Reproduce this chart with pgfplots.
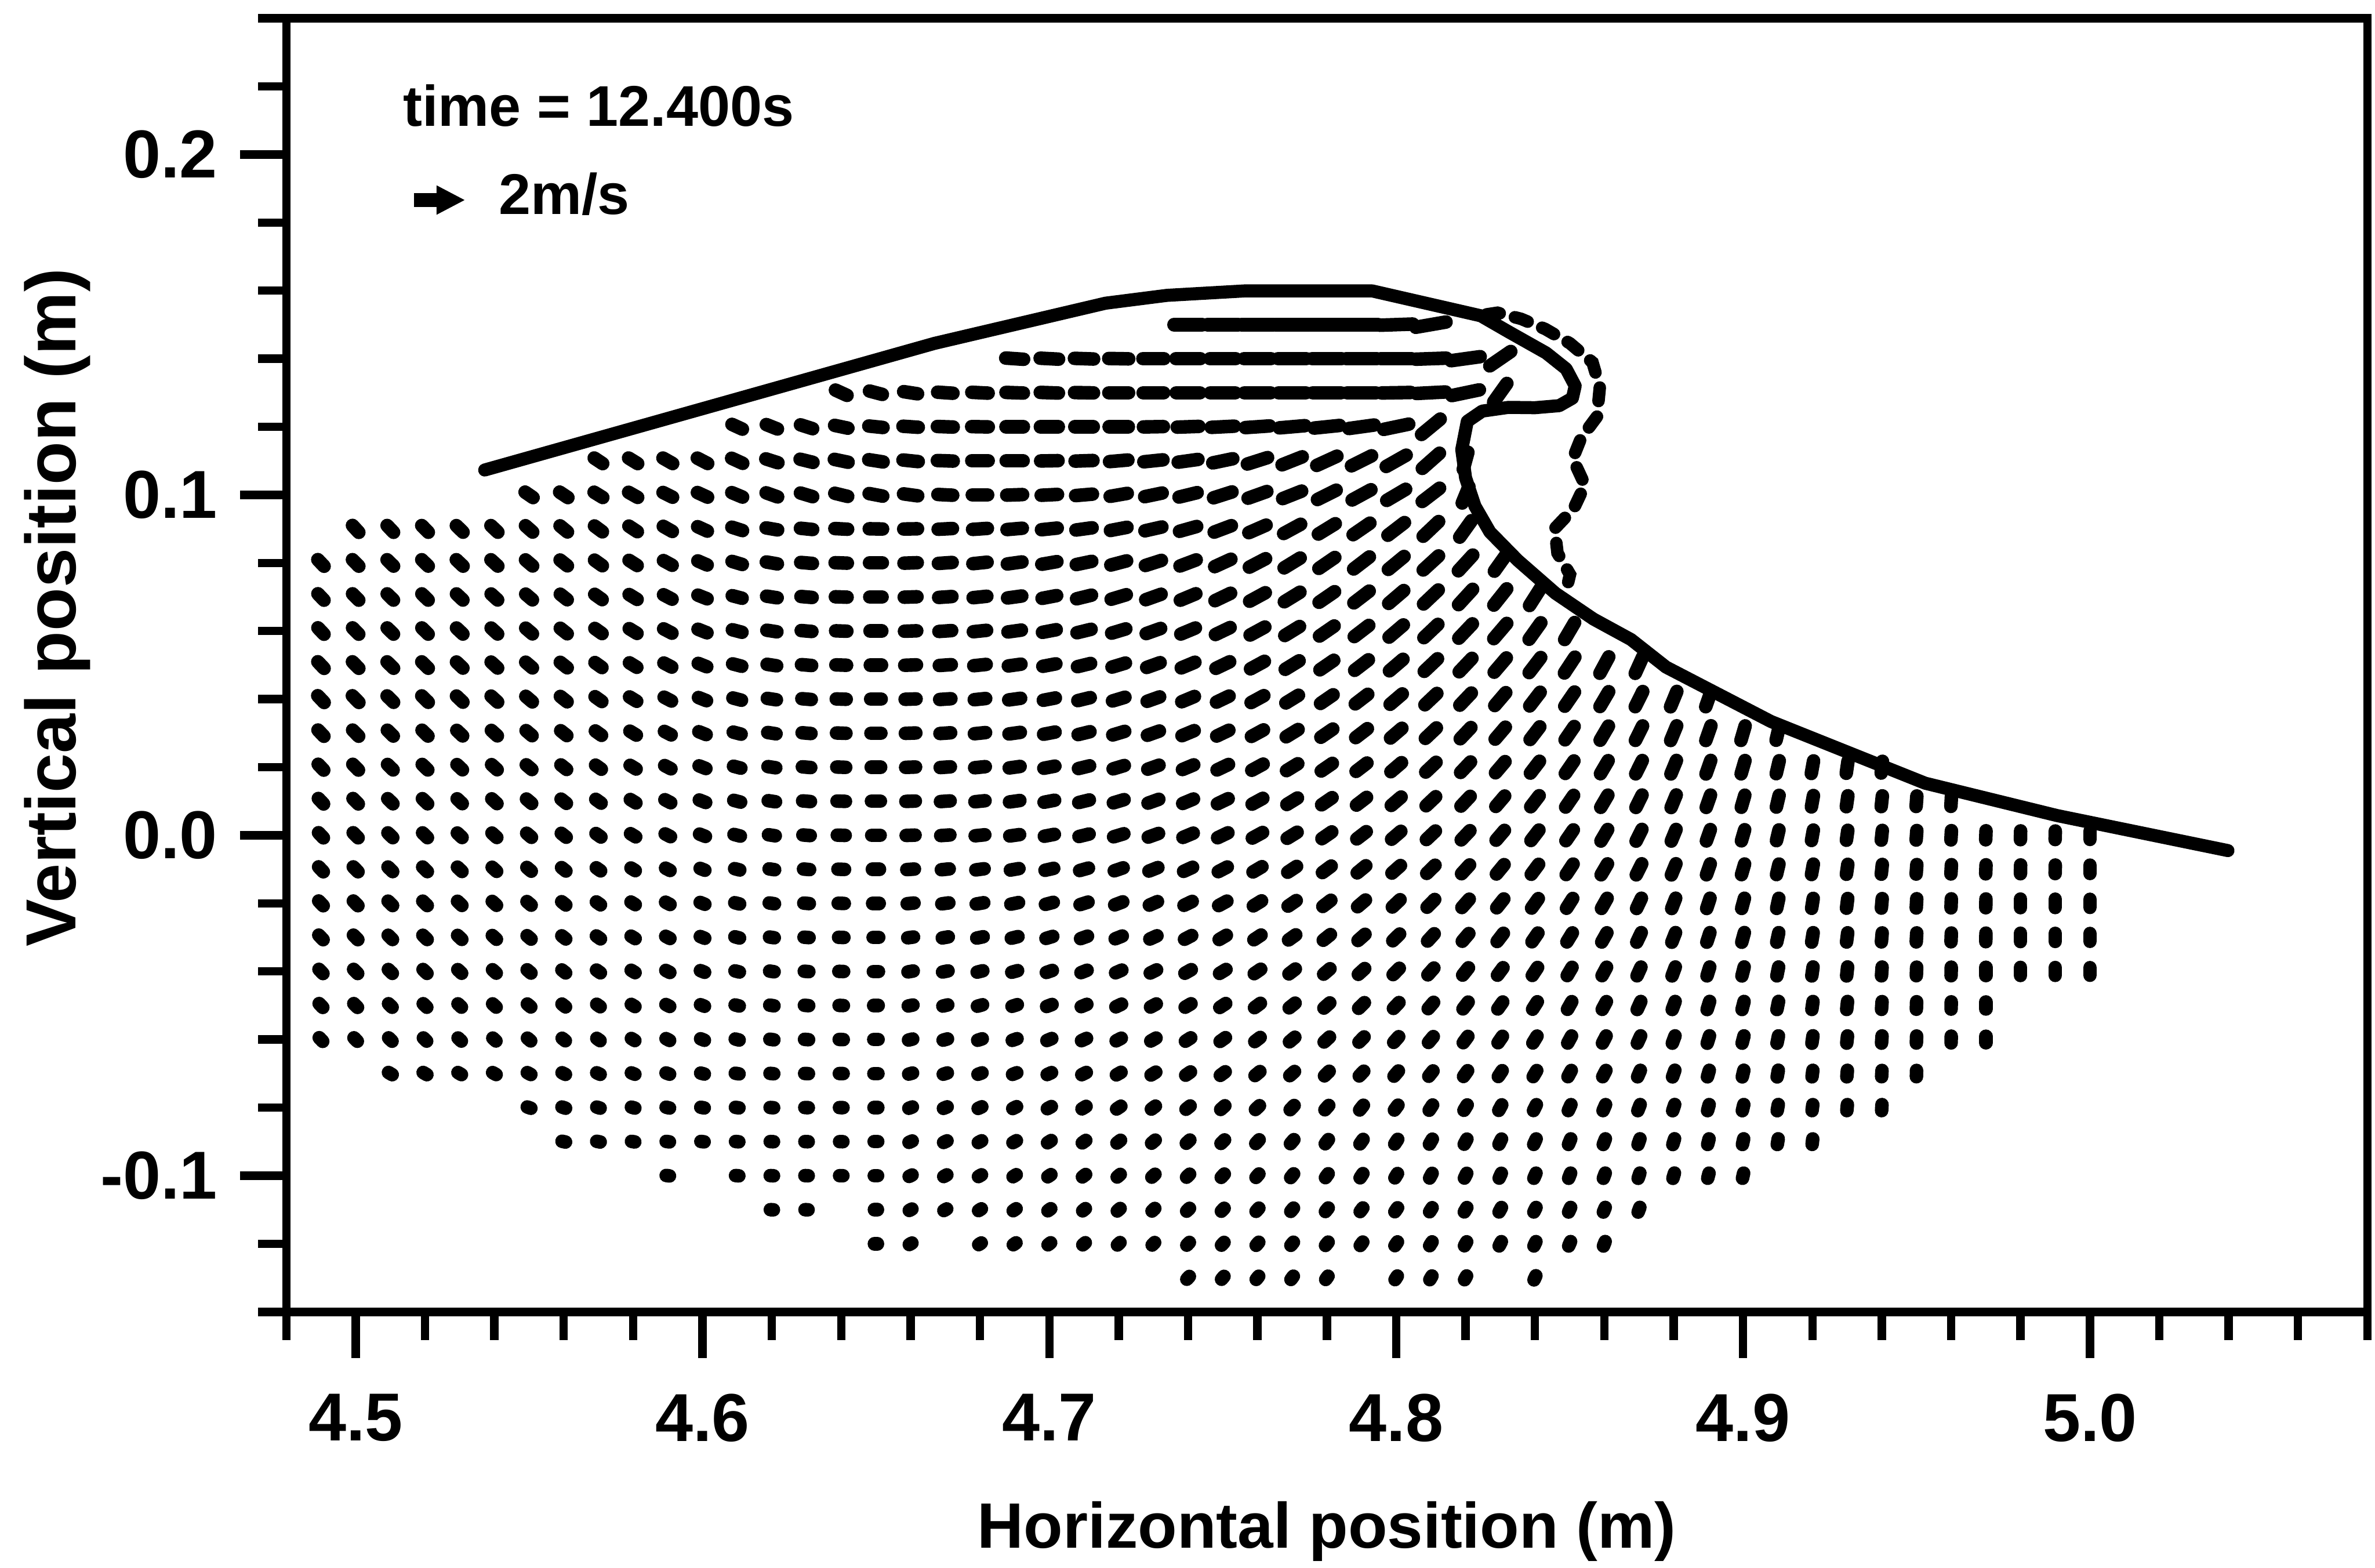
\documentclass[border=0pt]{standalone}
\usepackage{fontspec}
\setmainfont{Liberation Sans}
\usepackage{pgfplots}
\usepackage{pgfplotstable}
\pgfplotsset{compat=1.18}
\usetikzlibrary{arrows.meta}

% velocity field: grid point (x,y) in m, direction a in degrees, speed s in m/s
\pgfplotstableread{
x y a s
4.74 0.15 0 1.10
4.75 0.15 0 1.20
4.76 0.15 0 1.25
4.77 0.15 0 1.30
4.78 0.15 0 1.30
4.79 0.15 0 1.30
4.80 0.15 2 1.30
4.81 0.15 10 1.20
4.69 0.14 -4 0.70
4.70 0.14 -3 0.72
4.71 0.14 -2 0.75
4.72 0.14 -1 0.78
4.73 0.14 0 0.82
4.74 0.14 0 0.95
4.75 0.14 0 1.00
4.76 0.14 0 1.05
4.77 0.14 0 1.10
4.78 0.14 0 1.15
4.79 0.14 0 1.20
4.80 0.14 0 1.20
4.81 0.14 2 1.20
4.82 0.14 8 1.15
4.83 0.14 35 1.00
4.64 0.13 -25 0.50
4.65 0.13 -15 0.52
4.66 0.13 -9 0.55
4.67 0.13 -4 0.60
4.68 0.13 -3 0.64
4.69 0.13 -2 0.68
4.70 0.13 -2 0.71
4.71 0.13 -1 0.74
4.72 0.13 0 0.77
4.73 0.13 0 0.80
4.74 0.13 0 0.92
4.75 0.13 0 0.97
4.76 0.13 0 1.02
4.77 0.13 0 1.06
4.78 0.13 0 1.10
4.79 0.13 0 1.12
4.80 0.13 1 1.14
4.81 0.13 3 1.14
4.82 0.13 12 1.10
4.83 0.13 55 0.90
4.61 0.12 -25 0.45
4.62 0.12 -22 0.47
4.63 0.12 -18 0.50
4.64 0.12 -12 0.53
4.65 0.12 -6 0.56
4.66 0.12 -4 0.60
4.67 0.12 -2 0.62
4.68 0.12 -1 0.65
4.69 0.12 0 0.68
4.70 0.12 0 0.70
4.71 0.12 0 0.72
4.72 0.12 0 0.75
4.73 0.12 1 0.78
4.74 0.12 2 0.85
4.75 0.12 3 0.90
4.76 0.12 4 0.95
4.77 0.12 5 1.00
4.78 0.12 6 1.00
4.79 0.12 8 1.00
4.80 0.12 12 1.00
4.81 0.12 40 0.95
4.57 0.11 -34 0.40
4.58 0.11 -32 0.42
4.59 0.11 -30 0.44
4.60 0.11 -28 0.46
4.61 0.11 -25 0.48
4.62 0.11 -18 0.50
4.63 0.11 -14 0.52
4.64 0.11 -12 0.55
4.65 0.11 -9 0.57
4.66 0.11 -6 0.60
4.67 0.11 -2 0.62
4.68 0.11 0 0.64
4.69 0.11 0 0.66
4.70 0.11 1 0.68
4.71 0.11 2 0.70
4.72 0.11 5 0.72
4.73 0.11 6 0.75
4.74 0.11 8 0.78
4.75 0.11 12 0.80
4.76 0.11 18 0.83
4.77 0.11 22 0.85
4.78 0.11 25 0.87
4.79 0.11 27 0.88
4.80 0.11 30 0.90
4.81 0.11 42 0.90
4.82 0.11 75 0.70
4.55 0.10 -35 0.38
4.56 0.10 -34 0.39
4.57 0.10 -32 0.40
4.58 0.10 -30 0.41
4.59 0.10 -27 0.42
4.60 0.10 -25 0.44
4.61 0.10 -23 0.46
4.62 0.10 -20 0.48
4.63 0.10 -17 0.50
4.64 0.10 -14 0.52
4.65 0.10 -11 0.54
4.66 0.10 -8 0.56
4.67 0.10 -3 0.58
4.68 0.10 0 0.60
4.69 0.10 2 0.62
4.70 0.10 3 0.64
4.71 0.10 5 0.66
4.72 0.10 10 0.68
4.73 0.10 12 0.70
4.74 0.10 14 0.73
4.75 0.10 18 0.76
4.76 0.10 20 0.78
4.77 0.10 22 0.80
4.78 0.10 27 0.82
4.79 0.10 29 0.84
4.80 0.10 31 0.86
4.81 0.10 38 0.86
4.82 0.10 68 0.70
4.50 0.09 -48 0.37
4.51 0.09 -47 0.37
4.52 0.09 -46 0.37
4.53 0.09 -45 0.37
4.54 0.09 -44 0.38
4.55 0.09 -42 0.38
4.56 0.09 -40 0.38
4.57 0.09 -37 0.39
4.58 0.09 -34 0.40
4.59 0.09 -30 0.41
4.60 0.09 -25 0.42
4.61 0.09 -18 0.44
4.62 0.09 -10 0.46
4.63 0.09 -6 0.48
4.64 0.09 -3 0.50
4.65 0.09 -1 0.52
4.66 0.09 1 0.54
4.67 0.09 3 0.56
4.68 0.09 4 0.58
4.69 0.09 5 0.60
4.70 0.09 6 0.62
4.71 0.09 8 0.64
4.72 0.09 11 0.66
4.73 0.09 13 0.68
4.74 0.09 16 0.70
4.75 0.09 21 0.72
4.76 0.09 24 0.74
4.77 0.09 29 0.76
4.78 0.09 32 0.78
4.79 0.09 35 0.80
4.80 0.09 38 0.82
4.81 0.09 44 0.84
4.82 0.09 55 0.80
4.49 0.08 -47 0.36
4.50 0.08 -46 0.36
4.51 0.08 -45 0.36
4.52 0.08 -45 0.36
4.53 0.08 -44 0.37
4.54 0.08 -43 0.37
4.55 0.08 -41 0.37
4.56 0.08 -39 0.37
4.57 0.08 -36 0.38
4.58 0.08 -33 0.38
4.59 0.08 -29 0.39
4.60 0.08 -24 0.40
4.61 0.08 -17 0.42
4.62 0.08 -10 0.44
4.63 0.08 -5 0.46
4.64 0.08 -2 0.48
4.65 0.08 0 0.50
4.66 0.08 2 0.52
4.67 0.08 4 0.54
4.68 0.08 6 0.56
4.69 0.08 8 0.58
4.70 0.08 10 0.60
4.71 0.08 12 0.62
4.72 0.08 15 0.64
4.73 0.08 18 0.66
4.74 0.08 21 0.68
4.75 0.08 25 0.70
4.76 0.08 28 0.72
4.77 0.08 32 0.74
4.78 0.08 35 0.76
4.79 0.08 38 0.78
4.80 0.08 40 0.80
4.81 0.08 43 0.82
4.82 0.08 48 0.84
4.83 0.08 55 0.80
4.49 0.07 -47 0.35
4.50 0.07 -46 0.35
4.51 0.07 -45 0.35
4.52 0.07 -45 0.35
4.53 0.07 -44 0.35
4.54 0.07 -43 0.35
4.55 0.07 -41 0.35
4.56 0.07 -39 0.35
4.57 0.07 -36 0.36
4.58 0.07 -32 0.37
4.59 0.07 -28 0.38
4.60 0.07 -22 0.39
4.61 0.07 -15 0.40
4.62 0.07 -9 0.42
4.63 0.07 -5 0.44
4.64 0.07 -2 0.46
4.65 0.07 0 0.48
4.66 0.07 2 0.50
4.67 0.07 4 0.52
4.68 0.07 6 0.54
4.69 0.07 8 0.56
4.70 0.07 11 0.58
4.71 0.07 14 0.60
4.72 0.07 17 0.62
4.73 0.07 20 0.64
4.74 0.07 23 0.66
4.75 0.07 26 0.68
4.76 0.07 29 0.70
4.77 0.07 32 0.72
4.78 0.07 35 0.74
4.79 0.07 38 0.76
4.80 0.07 41 0.78
4.81 0.07 44 0.80
4.82 0.07 48 0.82
4.83 0.07 52 0.82
4.84 0.07 58 0.80
4.49 0.06 -47 0.35
4.50 0.06 -46 0.35
4.51 0.06 -45 0.35
4.52 0.06 -45 0.35
4.53 0.06 -44 0.35
4.54 0.06 -43 0.35
4.55 0.06 -41 0.35
4.56 0.06 -39 0.35
4.57 0.06 -36 0.35
4.58 0.06 -32 0.36
4.59 0.06 -28 0.37
4.60 0.06 -22 0.38
4.61 0.06 -15 0.39
4.62 0.06 -9 0.40
4.63 0.06 -5 0.42
4.64 0.06 -2 0.44
4.65 0.06 0 0.46
4.66 0.06 2 0.48
4.67 0.06 4 0.50
4.68 0.06 6 0.52
4.69 0.06 8 0.53
4.70 0.06 11 0.55
4.71 0.06 14 0.57
4.72 0.06 17 0.58
4.73 0.06 20 0.60
4.74 0.06 23 0.62
4.75 0.06 26 0.64
4.76 0.06 29 0.66
4.77 0.06 32 0.68
4.78 0.06 35 0.70
4.79 0.06 38 0.72
4.80 0.06 41 0.74
4.81 0.06 44 0.76
4.82 0.06 47 0.78
4.83 0.06 50 0.79
4.84 0.06 55 0.80
4.85 0.06 60 0.78
4.49 0.05 -47 0.36
4.50 0.05 -46 0.36
4.51 0.05 -45 0.36
4.52 0.05 -45 0.36
4.53 0.05 -44 0.35
4.54 0.05 -43 0.35
4.55 0.05 -41 0.35
4.56 0.05 -39 0.35
4.57 0.05 -36 0.34
4.58 0.05 -32 0.34
4.59 0.05 -28 0.35
4.60 0.05 -22 0.36
4.61 0.05 -15 0.37
4.62 0.05 -9 0.38
4.63 0.05 -5 0.40
4.64 0.05 -2 0.42
4.65 0.05 0 0.44
4.66 0.05 2 0.46
4.67 0.05 4 0.47
4.68 0.05 6 0.49
4.69 0.05 8 0.50
4.70 0.05 11 0.52
4.71 0.05 14 0.53
4.72 0.05 17 0.55
4.73 0.05 20 0.56
4.74 0.05 23 0.58
4.75 0.05 26 0.60
4.76 0.05 29 0.62
4.77 0.05 32 0.64
4.78 0.05 35 0.66
4.79 0.05 38 0.68
4.80 0.05 41 0.70
4.81 0.05 44 0.72
4.82 0.05 47 0.73
4.83 0.05 50 0.74
4.84 0.05 53 0.75
4.85 0.05 57 0.75
4.86 0.05 62 0.74
4.87 0.05 66 0.72
4.49 0.04 -47 0.37
4.50 0.04 -46 0.37
4.51 0.04 -45 0.36
4.52 0.04 -45 0.36
4.53 0.04 -44 0.35
4.54 0.04 -43 0.35
4.55 0.04 -41 0.34
4.56 0.04 -39 0.34
4.57 0.04 -36 0.33
4.58 0.04 -32 0.33
4.59 0.04 -28 0.33
4.60 0.04 -22 0.34
4.61 0.04 -15 0.35
4.62 0.04 -9 0.36
4.63 0.04 -5 0.37
4.64 0.04 -2 0.39
4.65 0.04 0 0.41
4.66 0.04 2 0.43
4.67 0.04 4 0.44
4.68 0.04 6 0.45
4.69 0.04 8 0.47
4.70 0.04 11 0.48
4.71 0.04 14 0.50
4.72 0.04 17 0.51
4.73 0.04 20 0.52
4.74 0.04 23 0.54
4.75 0.04 26 0.55
4.76 0.04 29 0.57
4.77 0.04 32 0.58
4.78 0.04 35 0.60
4.79 0.04 38 0.62
4.80 0.04 41 0.63
4.81 0.04 44 0.65
4.82 0.04 47 0.66
4.83 0.04 50 0.67
4.84 0.04 53 0.68
4.85 0.04 56 0.68
4.86 0.04 60 0.68
4.87 0.04 64 0.67
4.88 0.04 68 0.66
4.89 0.04 71 0.64
4.49 0.03 -47 0.34
4.50 0.03 -46 0.34
4.51 0.03 -45 0.33
4.52 0.03 -45 0.33
4.53 0.03 -44 0.32
4.54 0.03 -43 0.32
4.55 0.03 -41 0.31
4.56 0.03 -39 0.31
4.57 0.03 -36 0.30
4.58 0.03 -32 0.30
4.59 0.03 -28 0.30
4.60 0.03 -22 0.31
4.61 0.03 -15 0.32
4.62 0.03 -9 0.33
4.63 0.03 -5 0.35
4.64 0.03 -2 0.37
4.65 0.03 0 0.39
4.66 0.03 2 0.41
4.67 0.03 4 0.42
4.68 0.03 6 0.44
4.69 0.03 8 0.45
4.70 0.03 11 0.46
4.71 0.03 14 0.48
4.72 0.03 17 0.49
4.73 0.03 20 0.50
4.74 0.03 23 0.52
4.75 0.03 26 0.53
4.76 0.03 29 0.54
4.77 0.03 32 0.55
4.78 0.03 35 0.57
4.79 0.03 38 0.58
4.80 0.03 41 0.59
4.81 0.03 44 0.60
4.82 0.03 47 0.61
4.83 0.03 50 0.62
4.84 0.03 53 0.63
4.85 0.03 56 0.64
4.86 0.03 60 0.65
4.87 0.03 64 0.64
4.88 0.03 68 0.63
4.89 0.03 71 0.62
4.90 0.03 74 0.60
4.91 0.03 77 0.58
4.49 0.02 -47 0.32
4.50 0.02 -46 0.32
4.51 0.02 -45 0.31
4.52 0.02 -45 0.31
4.53 0.02 -44 0.30
4.54 0.02 -43 0.30
4.55 0.02 -41 0.29
4.56 0.02 -39 0.29
4.57 0.02 -36 0.28
4.58 0.02 -32 0.28
4.59 0.02 -28 0.28
4.60 0.02 -22 0.29
4.61 0.02 -15 0.30
4.62 0.02 -9 0.31
4.63 0.02 -5 0.33
4.64 0.02 -2 0.35
4.65 0.02 0 0.37
4.66 0.02 2 0.39
4.67 0.02 4 0.40
4.68 0.02 6 0.42
4.69 0.02 8 0.43
4.70 0.02 11 0.44
4.71 0.02 14 0.45
4.72 0.02 17 0.46
4.73 0.02 20 0.47
4.74 0.02 23 0.48
4.75 0.02 26 0.50
4.76 0.02 29 0.51
4.77 0.02 32 0.52
4.78 0.02 35 0.53
4.79 0.02 38 0.54
4.80 0.02 41 0.55
4.81 0.02 44 0.56
4.82 0.02 47 0.57
4.83 0.02 50 0.58
4.84 0.02 53 0.59
4.85 0.02 56 0.60
4.86 0.02 60 0.60
4.87 0.02 64 0.59
4.88 0.02 68 0.58
4.89 0.02 71 0.57
4.90 0.02 74 0.55
4.91 0.02 77 0.53
4.92 0.02 80 0.51
4.93 0.02 82 0.49
4.94 0.02 84 0.47
4.49 0.01 -47 0.30
4.50 0.01 -46 0.30
4.51 0.01 -45 0.29
4.52 0.01 -45 0.29
4.53 0.01 -44 0.28
4.54 0.01 -43 0.28
4.55 0.01 -41 0.27
4.56 0.01 -39 0.27
4.57 0.01 -36 0.26
4.58 0.01 -32 0.26
4.59 0.01 -28 0.26
4.60 0.01 -22 0.27
4.61 0.01 -15 0.28
4.62 0.01 -9 0.29
4.63 0.01 -5 0.31
4.64 0.01 -2 0.33
4.65 0.01 0 0.35
4.66 0.01 2 0.37
4.67 0.01 4 0.38
4.68 0.01 6 0.40
4.69 0.01 8 0.41
4.70 0.01 11 0.42
4.71 0.01 14 0.43
4.72 0.01 17 0.44
4.73 0.01 20 0.45
4.74 0.01 23 0.46
4.75 0.01 26 0.47
4.76 0.01 29 0.48
4.77 0.01 32 0.49
4.78 0.01 35 0.50
4.79 0.01 38 0.50
4.80 0.01 41 0.51
4.81 0.01 44 0.52
4.82 0.01 47 0.53
4.83 0.01 50 0.54
4.84 0.01 53 0.55
4.85 0.01 56 0.56
4.86 0.01 60 0.56
4.87 0.01 64 0.55
4.88 0.01 68 0.54
4.89 0.01 71 0.52
4.90 0.01 74 0.50
4.91 0.01 77 0.48
4.92 0.01 80 0.46
4.93 0.01 82 0.44
4.94 0.01 84 0.43
4.95 0.01 86 0.42
4.96 0.01 87 0.41
4.49 0.00 -47 0.28
4.50 0.00 -46 0.28
4.51 0.00 -45 0.27
4.52 0.00 -45 0.27
4.53 0.00 -44 0.26
4.54 0.00 -43 0.26
4.55 0.00 -41 0.25
4.56 0.00 -39 0.25
4.57 0.00 -36 0.24
4.58 0.00 -32 0.24
4.59 0.00 -28 0.24
4.60 0.00 -22 0.25
4.61 0.00 -15 0.26
4.62 0.00 -9 0.27
4.63 0.00 -5 0.29
4.64 0.00 -2 0.31
4.65 0.00 0 0.33
4.66 0.00 2 0.35
4.67 0.00 4 0.36
4.68 0.00 6 0.38
4.69 0.00 8 0.39
4.70 0.00 11 0.40
4.71 0.00 14 0.41
4.72 0.00 17 0.42
4.73 0.00 20 0.43
4.74 0.00 23 0.44
4.75 0.00 26 0.45
4.76 0.00 29 0.46
4.77 0.00 32 0.46
4.78 0.00 35 0.47
4.79 0.00 38 0.47
4.80 0.00 41 0.48
4.81 0.00 44 0.49
4.82 0.00 47 0.50
4.83 0.00 50 0.51
4.84 0.00 53 0.52
4.85 0.00 56 0.52
4.86 0.00 60 0.53
4.87 0.00 64 0.52
4.88 0.00 68 0.50
4.89 0.00 71 0.48
4.90 0.00 74 0.46
4.91 0.00 77 0.44
4.92 0.00 80 0.42
4.93 0.00 82 0.40
4.94 0.00 84 0.39
4.95 0.00 86 0.38
4.96 0.00 87 0.37
4.97 0.00 88 0.36
4.98 0.00 89 0.35
4.99 0.00 89 0.34
5.00 0.00 90 0.33
4.49 -0.01 -47 0.27
4.50 -0.01 -46 0.27
4.51 -0.01 -45 0.26
4.52 -0.01 -45 0.26
4.53 -0.01 -44 0.25
4.54 -0.01 -43 0.24
4.55 -0.01 -41 0.23
4.56 -0.01 -39 0.22
4.57 -0.01 -36 0.21
4.58 -0.01 -32 0.20
4.59 -0.01 -28 0.20
4.60 -0.01 -22 0.20
4.61 -0.01 -15 0.21
4.62 -0.01 -9 0.22
4.63 -0.01 -5 0.24
4.64 -0.01 -2 0.26
4.65 -0.01 0 0.28
4.66 -0.01 4 0.30
4.67 -0.01 6 0.31
4.68 -0.01 8 0.33
4.69 -0.01 10 0.34
4.70 -0.01 13 0.35
4.71 -0.01 16 0.36
4.72 -0.01 19 0.37
4.73 -0.01 22 0.38
4.74 -0.01 25 0.39
4.75 -0.01 28 0.40
4.76 -0.01 31 0.41
4.77 -0.01 34 0.42
4.78 -0.01 37 0.43
4.79 -0.01 40 0.44
4.80 -0.01 42 0.45
4.81 -0.01 45 0.46
4.82 -0.01 48 0.47
4.83 -0.01 51 0.48
4.84 -0.01 54 0.49
4.85 -0.01 57 0.50
4.86 -0.01 60 0.50
4.87 -0.01 64 0.49
4.88 -0.01 68 0.48
4.89 -0.01 71 0.46
4.90 -0.01 74 0.44
4.91 -0.01 77 0.43
4.92 -0.01 80 0.42
4.93 -0.01 82 0.40
4.94 -0.01 84 0.39
4.95 -0.01 86 0.38
4.96 -0.01 87 0.37
4.97 -0.01 88 0.36
4.98 -0.01 89 0.35
4.99 -0.01 89 0.34
5.00 -0.01 90 0.33
4.49 -0.02 -47 0.26
4.50 -0.02 -46 0.26
4.51 -0.02 -45 0.25
4.52 -0.02 -45 0.25
4.53 -0.02 -44 0.24
4.54 -0.02 -43 0.23
4.55 -0.02 -41 0.22
4.56 -0.02 -39 0.21
4.57 -0.02 -36 0.20
4.58 -0.02 -32 0.20
4.59 -0.02 -28 0.20
4.60 -0.02 -22 0.20
4.61 -0.02 -15 0.20
4.62 -0.02 -9 0.21
4.63 -0.02 -5 0.22
4.64 -0.02 -2 0.24
4.65 -0.02 0 0.26
4.66 -0.02 6 0.27
4.67 -0.02 8 0.28
4.68 -0.02 10 0.30
4.69 -0.02 12 0.31
4.70 -0.02 15 0.32
4.71 -0.02 18 0.33
4.72 -0.02 21 0.34
4.73 -0.02 24 0.35
4.74 -0.02 26 0.36
4.75 -0.02 29 0.37
4.76 -0.02 32 0.38
4.77 -0.02 35 0.39
4.78 -0.02 38 0.40
4.79 -0.02 41 0.41
4.80 -0.02 44 0.42
4.81 -0.02 46 0.43
4.82 -0.02 49 0.44
4.83 -0.02 52 0.45
4.84 -0.02 55 0.46
4.85 -0.02 58 0.46
4.86 -0.02 61 0.46
4.87 -0.02 65 0.45
4.88 -0.02 69 0.44
4.89 -0.02 72 0.43
4.90 -0.02 75 0.42
4.91 -0.02 78 0.41
4.92 -0.02 81 0.40
4.93 -0.02 83 0.39
4.94 -0.02 85 0.38
4.95 -0.02 87 0.37
4.96 -0.02 88 0.36
4.97 -0.02 89 0.35
4.98 -0.02 90 0.34
4.99 -0.02 90 0.33
5.00 -0.02 90 0.32
4.49 -0.03 -47 0.25
4.50 -0.03 -46 0.25
4.51 -0.03 -45 0.24
4.52 -0.03 -45 0.24
4.53 -0.03 -44 0.23
4.54 -0.03 -43 0.22
4.55 -0.03 -41 0.21
4.56 -0.03 -39 0.20
4.57 -0.03 -36 0.20
4.58 -0.03 -32 0.19
4.59 -0.03 -28 0.19
4.60 -0.03 -22 0.19
4.61 -0.03 -15 0.19
4.62 -0.03 -9 0.19
4.63 -0.03 -5 0.20
4.64 -0.03 -2 0.21
4.65 -0.03 0 0.22
4.66 -0.03 8 0.23
4.67 -0.03 10 0.24
4.68 -0.03 12 0.26
4.69 -0.03 14 0.27
4.70 -0.03 17 0.28
4.71 -0.03 20 0.29
4.72 -0.03 22 0.30
4.73 -0.03 25 0.31
4.74 -0.03 28 0.32
4.75 -0.03 31 0.33
4.76 -0.03 34 0.34
4.77 -0.03 36 0.35
4.78 -0.03 39 0.36
4.79 -0.03 42 0.37
4.80 -0.03 45 0.38
4.81 -0.03 48 0.39
4.82 -0.03 50 0.40
4.83 -0.03 53 0.41
4.84 -0.03 56 0.42
4.85 -0.03 59 0.42
4.86 -0.03 61 0.42
4.87 -0.03 65 0.42
4.88 -0.03 69 0.41
4.89 -0.03 72 0.40
4.90 -0.03 75 0.40
4.91 -0.03 78 0.39
4.92 -0.03 81 0.38
4.93 -0.03 83 0.37
4.94 -0.03 85 0.36
4.95 -0.03 87 0.36
4.96 -0.03 88 0.35
4.97 -0.03 89 0.34
4.98 -0.03 90 0.33
4.99 -0.03 90 0.32
5.00 -0.03 90 0.31
4.49 -0.04 -47 0.23
4.50 -0.04 -46 0.23
4.51 -0.04 -45 0.22
4.52 -0.04 -45 0.22
4.53 -0.04 -44 0.21
4.54 -0.04 -43 0.20
4.55 -0.04 -41 0.20
4.56 -0.04 -39 0.19
4.57 -0.04 -36 0.19
4.58 -0.04 -32 0.18
4.59 -0.04 -28 0.18
4.60 -0.04 -22 0.18
4.61 -0.04 -15 0.18
4.62 -0.04 -9 0.18
4.63 -0.04 -5 0.18
4.64 -0.04 -2 0.19
4.65 -0.04 0 0.20
4.66 -0.04 10 0.21
4.67 -0.04 12 0.22
4.68 -0.04 14 0.23
4.69 -0.04 16 0.24
4.70 -0.04 19 0.25
4.71 -0.04 22 0.26
4.72 -0.04 24 0.27
4.73 -0.04 27 0.28
4.74 -0.04 30 0.29
4.75 -0.04 32 0.30
4.76 -0.04 35 0.31
4.77 -0.04 38 0.32
4.78 -0.04 41 0.33
4.79 -0.04 43 0.34
4.80 -0.04 46 0.35
4.81 -0.04 49 0.36
4.82 -0.04 52 0.37
4.83 -0.04 54 0.37
4.84 -0.04 57 0.38
4.85 -0.04 60 0.38
4.86 -0.04 62 0.38
4.87 -0.04 66 0.38
4.88 -0.04 70 0.38
4.89 -0.04 73 0.37
4.90 -0.04 76 0.37
4.91 -0.04 79 0.36
4.92 -0.04 82 0.36
4.93 -0.04 84 0.36
4.94 -0.04 86 0.35
4.95 -0.04 88 0.34
4.96 -0.04 89 0.34
4.97 -0.04 90 0.33
4.98 -0.04 90 0.32
4.99 -0.04 90 0.31
5.00 -0.04 90 0.30
4.49 -0.05 -47 0.21
4.50 -0.05 -46 0.21
4.51 -0.05 -45 0.20
4.52 -0.05 -45 0.20
4.53 -0.05 -44 0.19
4.54 -0.05 -43 0.19
4.55 -0.05 -41 0.18
4.56 -0.05 -39 0.18
4.57 -0.05 -36 0.17
4.58 -0.05 -32 0.17
4.59 -0.05 -28 0.17
4.60 -0.05 -22 0.17
4.61 -0.05 -15 0.17
4.62 -0.05 -9 0.17
4.63 -0.05 -5 0.17
4.64 -0.05 -2 0.17
4.65 -0.05 0 0.18
4.66 -0.05 12 0.19
4.67 -0.05 14 0.20
4.68 -0.05 16 0.21
4.69 -0.05 18 0.22
4.70 -0.05 21 0.23
4.71 -0.05 23 0.24
4.72 -0.05 26 0.25
4.73 -0.05 29 0.26
4.74 -0.05 31 0.27
4.75 -0.05 34 0.28
4.76 -0.05 37 0.29
4.77 -0.05 39 0.30
4.78 -0.05 42 0.31
4.79 -0.05 45 0.32
4.80 -0.05 47 0.32
4.81 -0.05 50 0.33
4.82 -0.05 53 0.34
4.83 -0.05 55 0.34
4.84 -0.05 58 0.35
4.85 -0.05 61 0.35
4.86 -0.05 62 0.35
4.87 -0.05 66 0.35
4.88 -0.05 70 0.34
4.89 -0.05 73 0.34
4.90 -0.05 76 0.33
4.91 -0.05 79 0.33
4.92 -0.05 82 0.32
4.93 -0.05 84 0.32
4.94 -0.05 86 0.31
4.95 -0.05 88 0.30
4.96 -0.05 89 0.29
4.97 -0.05 90 0.28
4.49 -0.06 -47 0.20
4.50 -0.06 -46 0.19
4.51 -0.06 -45 0.19
4.52 -0.06 -45 0.18
4.53 -0.06 -44 0.18
4.54 -0.06 -43 0.17
4.55 -0.06 -41 0.17
4.56 -0.06 -39 0.16
4.57 -0.06 -36 0.16
4.58 -0.06 -32 0.16
4.59 -0.06 -28 0.16
4.60 -0.06 -22 0.16
4.61 -0.06 -15 0.16
4.62 -0.06 -9 0.16
4.63 -0.06 -5 0.16
4.64 -0.06 -2 0.16
4.65 -0.06 0 0.17
4.66 -0.06 14 0.17
4.67 -0.06 16 0.18
4.68 -0.06 18 0.19
4.69 -0.06 20 0.20
4.70 -0.06 23 0.21
4.71 -0.06 25 0.22
4.72 -0.06 28 0.23
4.73 -0.06 30 0.24
4.74 -0.06 33 0.25
4.75 -0.06 36 0.26
4.76 -0.06 38 0.27
4.77 -0.06 41 0.28
4.78 -0.06 43 0.29
4.79 -0.06 46 0.29
4.80 -0.06 49 0.30
4.81 -0.06 51 0.30
4.82 -0.06 54 0.31
4.83 -0.06 56 0.31
4.84 -0.06 59 0.32
4.85 -0.06 62 0.32
4.86 -0.06 63 0.32
4.87 -0.06 66 0.32
4.88 -0.06 70 0.31
4.89 -0.06 73 0.31
4.90 -0.06 76 0.30
4.91 -0.06 79 0.30
4.92 -0.06 82 0.30
4.93 -0.06 84 0.29
4.94 -0.06 86 0.29
4.95 -0.06 88 0.28
4.96 -0.06 89 0.27
4.97 -0.06 90 0.26
4.51 -0.07 -31 0.17
4.52 -0.07 -31 0.17
4.53 -0.07 -31 0.16
4.54 -0.07 -30 0.16
4.55 -0.07 -29 0.16
4.56 -0.07 -27 0.15
4.57 -0.07 -25 0.15
4.58 -0.07 -22 0.15
4.59 -0.07 -20 0.15
4.60 -0.07 -15 0.15
4.61 -0.07 -10 0.15
4.62 -0.07 -6 0.15
4.63 -0.07 -3 0.15
4.64 -0.07 -1 0.15
4.65 -0.07 0 0.16
4.66 -0.07 16 0.16
4.67 -0.07 18 0.17
4.68 -0.07 20 0.17
4.69 -0.07 22 0.18
4.70 -0.07 25 0.19
4.71 -0.07 27 0.20
4.72 -0.07 30 0.21
4.73 -0.07 32 0.22
4.74 -0.07 35 0.23
4.75 -0.07 37 0.24
4.76 -0.07 40 0.25
4.77 -0.07 42 0.25
4.78 -0.07 45 0.26
4.79 -0.07 47 0.26
4.80 -0.07 50 0.27
4.81 -0.07 52 0.27
4.82 -0.07 55 0.28
4.83 -0.07 57 0.28
4.84 -0.07 60 0.28
4.85 -0.07 62 0.28
4.86 -0.07 63 0.28
4.87 -0.07 67 0.28
4.88 -0.07 71 0.28
4.89 -0.07 74 0.27
4.90 -0.07 77 0.27
4.91 -0.07 80 0.27
4.92 -0.07 83 0.26
4.93 -0.07 85 0.26
4.94 -0.07 87 0.25
4.95 -0.07 89 0.25
4.55 -0.08 -20 0.15
4.56 -0.08 -19 0.15
4.57 -0.08 -18 0.14
4.58 -0.08 -16 0.14
4.59 -0.08 -14 0.14
4.60 -0.08 -11 0.14
4.61 -0.08 -8 0.14
4.62 -0.08 -4 0.14
4.63 -0.08 -2 0.14
4.64 -0.08 -1 0.14
4.65 -0.08 0 0.15
4.66 -0.08 21 0.15
4.67 -0.08 23 0.16
4.68 -0.08 25 0.16
4.69 -0.08 27 0.17
4.70 -0.08 29 0.18
4.71 -0.08 32 0.19
4.72 -0.08 34 0.20
4.73 -0.08 37 0.20
4.74 -0.08 39 0.21
4.75 -0.08 42 0.22
4.76 -0.08 44 0.22
4.77 -0.08 47 0.23
4.78 -0.08 49 0.23
4.79 -0.08 52 0.24
4.80 -0.08 54 0.24
4.81 -0.08 57 0.25
4.82 -0.08 59 0.25
4.83 -0.08 62 0.25
4.84 -0.08 64 0.26
4.85 -0.08 66 0.26
4.86 -0.08 67 0.26
4.87 -0.08 69 0.26
4.88 -0.08 72 0.26
4.89 -0.08 75 0.25
4.90 -0.08 77 0.25
4.91 -0.08 80 0.25
4.92 -0.08 83 0.24
4.93 -0.08 85 0.24
4.94 -0.08 87 0.24
4.56 -0.09 -12 0.14
4.57 -0.09 -11 0.14
4.58 -0.09 -10 0.13
4.59 -0.09 -8 0.13
4.60 -0.09 -7 0.13
4.61 -0.09 -5 0.13
4.62 -0.09 -3 0.13
4.63 -0.09 -2 0.13
4.64 -0.09 -1 0.13
4.65 -0.09 0 0.14
4.66 -0.09 24 0.14
4.67 -0.09 26 0.15
4.68 -0.09 28 0.15
4.69 -0.09 30 0.16
4.70 -0.09 33 0.17
4.71 -0.09 36 0.17
4.72 -0.09 38 0.18
4.73 -0.09 41 0.19
4.74 -0.09 43 0.19
4.75 -0.09 45 0.20
4.76 -0.09 48 0.20
4.77 -0.09 50 0.21
4.78 -0.09 53 0.21
4.79 -0.09 55 0.22
4.80 -0.09 57 0.22
4.81 -0.09 60 0.23
4.82 -0.09 62 0.23
4.83 -0.09 64 0.23
4.84 -0.09 66 0.24
4.85 -0.09 68 0.24
4.86 -0.09 69 0.24
4.87 -0.09 71 0.24
4.88 -0.09 73 0.24
4.89 -0.09 76 0.23
4.90 -0.09 78 0.23
4.91 -0.09 81 0.23
4.92 -0.09 84 0.22
4.59 -0.10 -8 0.13
4.61 -0.10 -5 0.13
4.62 -0.10 -3 0.13
4.63 -0.10 -2 0.13
4.64 -0.10 -1 0.13
4.65 -0.10 0 0.13
4.66 -0.10 27 0.13
4.67 -0.10 29 0.14
4.68 -0.10 31 0.14
4.69 -0.10 33 0.15
4.70 -0.10 35 0.15
4.71 -0.10 38 0.16
4.72 -0.10 41 0.16
4.73 -0.10 43 0.17
4.74 -0.10 45 0.17
4.75 -0.10 48 0.18
4.76 -0.10 50 0.18
4.77 -0.10 52 0.19
4.78 -0.10 55 0.19
4.79 -0.10 57 0.20
4.80 -0.10 59 0.20
4.81 -0.10 62 0.21
4.82 -0.10 64 0.21
4.83 -0.10 66 0.21
4.84 -0.10 67 0.22
4.85 -0.10 69 0.22
4.86 -0.10 70 0.22
4.87 -0.10 72 0.22
4.88 -0.10 74 0.22
4.89 -0.10 76 0.21
4.90 -0.10 78 0.21
4.62 -0.11 -3 0.12
4.63 -0.11 -2 0.12
4.65 -0.11 0 0.12
4.66 -0.11 29 0.12
4.67 -0.11 31 0.13
4.68 -0.11 33 0.13
4.69 -0.11 35 0.14
4.70 -0.11 37 0.14
4.71 -0.11 40 0.14
4.72 -0.11 42 0.15
4.73 -0.11 44 0.15
4.74 -0.11 45 0.16
4.75 -0.11 47 0.16
4.76 -0.11 49 0.17
4.77 -0.11 51 0.17
4.78 -0.11 52 0.18
4.79 -0.11 54 0.18
4.80 -0.11 56 0.19
4.81 -0.11 58 0.19
4.82 -0.11 60 0.20
4.83 -0.11 62 0.20
4.84 -0.11 64 0.20
4.85 -0.11 66 0.20
4.86 -0.11 68 0.20
4.87 -0.11 70 0.20
4.65 -0.12 0 0.12
4.66 -0.12 30 0.12
4.68 -0.12 34 0.12
4.69 -0.12 36 0.13
4.70 -0.12 39 0.13
4.71 -0.12 41 0.13
4.72 -0.12 44 0.14
4.73 -0.12 46 0.14
4.74 -0.12 47 0.15
4.75 -0.12 48 0.15
4.76 -0.12 50 0.16
4.77 -0.12 51 0.16
4.78 -0.12 52 0.17
4.79 -0.12 54 0.17
4.80 -0.12 56 0.18
4.81 -0.12 58 0.18
4.82 -0.12 61 0.18
4.83 -0.12 63 0.19
4.84 -0.12 65 0.19
4.85 -0.12 67 0.19
4.86 -0.12 69 0.19
4.74 -0.13 48 0.15
4.75 -0.13 50 0.15
4.76 -0.13 52 0.16
4.77 -0.13 54 0.16
4.78 -0.13 55 0.16
4.80 -0.13 58 0.17
4.81 -0.13 60 0.17
4.82 -0.13 62 0.17
4.84 -0.13 66 0.18
}\velocity

% free surface (solid) and the dashed surface of the overturning tongue
\pgfplotstableread{
x y
4.5372 0.1073
4.6669 0.1445
4.7162 0.1563
4.7339 0.1586
4.7562 0.1599
4.7931 0.1599
4.8244 0.1526
4.8324 0.1479
4.8432 0.1417
4.8490 0.1370
4.8516 0.1320
4.8508 0.1284
4.8470 0.1262
4.8400 0.1256
4.8324 0.1257
4.8248 0.1246
4.8205 0.1216
4.8189 0.1133
4.8200 0.1050
4.8227 0.0967
4.8270 0.0891
4.8350 0.0808
4.8459 0.0711
4.8569 0.0635
4.8677 0.0575
4.8778 0.0494
4.9081 0.0334
4.9525 0.0153
4.9905 0.0058
5.0398 -0.0045
}\surface

\pgfplotstableread{
x y
4.8260 0.1530
4.8292 0.1535
4.8360 0.1517
4.8430 0.1487
4.8501 0.1445
4.8566 0.1389
4.8587 0.1316
4.8579 0.1230
4.8533 0.1167
4.8509 0.1106
4.8544 0.1029
4.8512 0.0960
4.8457 0.0901
4.8465 0.0829
4.8501 0.0766
4.8487 0.0705
}\tongue

\begin{document}
\begin{tikzpicture}
\useasboundingbox (0,0) rectangle (16cm,10.561cm);
\begin{axis}[
  at={(1.9286cm,1.724cm)}, anchor=south west,
  scale only axis, width=14.02cm, height=8.714cm,
  xmin=4.48, xmax=5.08, ymin=-0.14, ymax=0.24,
  axis line style={line width=1.6pt},
  tick pos=left, tick align=outside,
  xtick={4.5,4.6,4.7,4.8,4.9,5.0},
  xticklabels={4.5,4.6,4.7,4.8,4.9,5.0},
  minor xtick={4.48,4.52,4.54,4.56,4.58,4.62,4.64,4.66,4.68,4.72,4.74,4.76,4.78,4.82,4.84,4.86,4.88,4.92,4.94,4.96,4.98,5.02,5.04,5.06,5.08},
  ytick={-0.1,0,0.1,0.2},
  yticklabels={-0.1,0.0,0.1,0.2},
  minor ytick={-0.14,-0.12,-0.08,-0.06,-0.04,-0.02,0.02,0.04,0.06,0.08,0.12,0.14,0.16,0.18,0.22,0.24},
  major tick length=0.31cm, minor tick length=0.19cm,
  tick style={line width=1.6pt, black},
  /pgf/number format/assume math mode=true,
  tick label style={font=\bfseries\fontsize{13}{15}\selectfont},
  xticklabel style={yshift=-0.12cm},
  yticklabel style={xshift=-0.03cm},
  xlabel={Horizontal position (m)},
  ylabel={Vertical position (m)},
  xlabel style={at={(axis description cs:0.5,-0.1827)}, anchor=base, font=\bfseries\fontsize{12.3}{15}\selectfont},
  ylabel style={at={(axis description cs:-0.1012,0.5445)}, anchor=base, font=\bfseries\fontsize{13.6}{15}\selectfont},
]
% velocity arrows, centred on their grid points
\addplot[black, line width=2.6pt, line cap=round,
  quiver={u=\thisrow{s}*cos(\thisrow{a}), v=\thisrow{s}*sin(\thisrow{a}), scale arrows=0.0074}]
  table[x expr={\thisrow{x}-0.0037*\thisrow{s}*cos(\thisrow{a})},
        y expr={\thisrow{y}-0.0037*\thisrow{s}*sin(\thisrow{a})}] {\velocity};
% surfaces
\addplot[black, line width=2.5pt, line join=round, line cap=round] table {\surface};
\addplot[black, line width=2.4pt, line cap=round, dash pattern=on 2.6pt off 3pt] table {\tongue};
% reference arrow: 2 m/s
\addplot[black, line width=2.6pt, -{Triangle[length=5.5pt,width=5.2pt]},
  quiver={u=\thisrow{u}, v=\thisrow{v}, scale arrows=0.0074}] table {
x y u v
4.5168 0.1866 2 0
};
\node[anchor=base west, inner sep=0pt, font=\bfseries\fontsize{11}{13}\selectfont] at (axis cs:4.5134,0.2083) {time = 12.400s};
\node[anchor=base west, inner sep=0pt, font=\bfseries\fontsize{11}{13}\selectfont] at (axis cs:4.541,0.1824) {2m/s};
\end{axis}
\end{tikzpicture}
\end{document}
